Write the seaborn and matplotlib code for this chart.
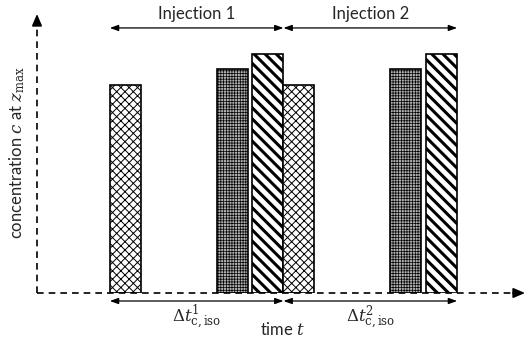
import matplotlib
matplotlib.use("Agg")
import matplotlib.pyplot as plt
import matplotlib.transforms as mtransforms
import pandas as pd
import seaborn as sns

# Bar centres along the time axis (bar width = 1 time unit)
bar_centers = [2.85, 6.30, 7.45, 8.45, 11.89, 13.04]
# Concentration at z_max for each component peak
concentrations = [0.867, 0.936, 1.0, 0.867, 0.936, 1.0]
components = ["A", "B", "C", "A", "B", "C"]
# Injection windows (start, end) on the time axis
injection_starts = [2.35, 7.95]
injection_ends = [7.95, 13.55]
injection_labels = ["Injection 1", "Injection 2"]
cycle_labels = [r"$\Delta t^{1}_{\mathrm{c,iso}}$", r"$\Delta t^{2}_{\mathrm{c,iso}}$"]

sns.set_style("white")
plt.rcParams["font.family"] = ["Lato", "DejaVu Sans"]
plt.rcParams["mathtext.fontset"] = "dejavuserif"
plt.rcParams["hatch.linewidth"] = 0.8

df = pd.DataFrame({"time": bar_centers, "conc": concentrations, "comp": components})

fig = plt.figure(figsize=(5.28, 3.39), dpi=100)
ax = fig.add_axes([37 / 528, (339 - 293) / 339, 488 / 528, 279 / 339])

sns.barplot(data=df, x="time", y="conc", native_scale=True, width=1.0,
            color="white", edgecolor="black", linewidth=1.2, ax=ax)

styles = {
    "A": dict(hatch="xxxx", face="white", hcolor="#8a8a8a", hlw=0.7),
    "B": dict(hatch="++++++", face="#b0b0b0", hcolor="#5a5a5a", hlw=0.5),
    "C": dict(hatch="\\\\\\", face="white", hcolor="black", hlw=2.2),
}
for patch, comp in zip(ax.patches, components):
    st = styles[comp]
    patch.set_facecolor(st["face"])
    patch.set_hatch(st["hatch"])
    if hasattr(patch, "set_hatchcolor"):
        patch.set_hatchcolor(st["hcolor"])
    else:
        patch._hatch_color = matplotlib.colors.to_rgba(st["hcolor"])
    if hasattr(patch, "set_hatch_linewidth"):
        patch.set_hatch_linewidth(st["hlw"])
    patch.set_edgecolor("black")

ax.set_xlim(0, 15.74)
ax.set_ylim(0, 1.165)
for s in ax.spines.values():
    s.set_visible(False)
ax.set_xticks([])
ax.set_yticks([])
ax.set_xlabel("")
ax.set_ylabel("")

# Dashed coordinate axes with arrow heads
ax.plot([0, 0.985], [0, 0], transform=ax.transAxes, ls=(0, (4, 3)),
        color="black", lw=1.2, clip_on=False)
ax.plot([0, 0], [0, 0.965], transform=ax.transAxes, ls=(0, (4, 3)),
        color="black", lw=1.2, clip_on=False)
ax.annotate("", xy=(1.0, 0), xytext=(0.975, 0), xycoords="axes fraction",
            arrowprops=dict(arrowstyle="-|>,head_length=0.7,head_width=0.3",
                            color="black", lw=1.2, shrinkA=0, shrinkB=0))
ax.annotate("", xy=(0, 1.0), xytext=(0, 0.96), xycoords="axes fraction",
            arrowprops=dict(arrowstyle="-|>,head_length=0.7,head_width=0.3",
                            color="black", lw=1.2, shrinkA=0, shrinkB=0))

trans = mtransforms.blended_transform_factory(ax.transData, ax.transAxes)
for x0, x1, lab, clab in zip(injection_starts, injection_ends, injection_labels, cycle_labels):
    for yy in (0.95, -0.0287):
        ax.annotate("", xy=(x1, yy), xytext=(x0, yy), xycoords=trans, textcoords=trans,
                    arrowprops=dict(arrowstyle="<|-|>,head_length=0.5,head_width=0.18",
                                    color="black", lw=0.9, shrinkA=0, shrinkB=0),
                    annotation_clip=False)
    xm = (x0 + x1) / 2
    ax.text(xm, 1.0, lab, transform=trans, ha="center", va="center", fontsize=12)
    ax.text(xm, -0.09, clab, transform=trans, ha="center", va="center", fontsize=12)

ax.text(7.94, -0.13, "time $t$", transform=trans, ha="center", va="center", fontsize=12)
fig.text(17 / 528, 1 - 152 / 339, r"concentration $c$ at $z_{\mathrm{max}}$",
         rotation=90, ha="center", va="center", fontsize=12)

fig.savefig("out.png", dpi=100)
